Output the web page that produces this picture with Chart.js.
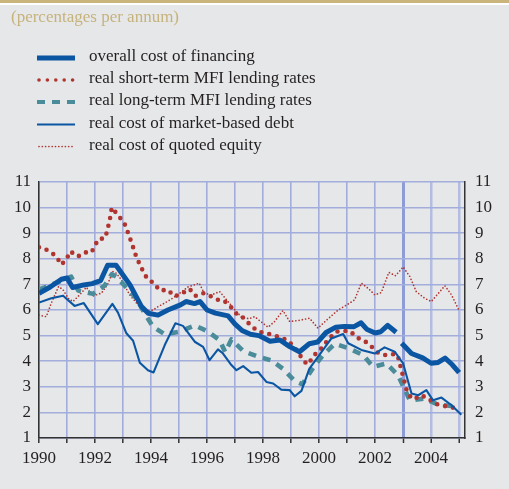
<!DOCTYPE html>
<html>
<head>
<meta charset="utf-8">
<script src="https://cdn.jsdelivr.net/npm/chart.js@4.4.1/dist/chart.umd.min.js"></script>
<style>
  html, body { margin: 0; padding: 0; background: #e6e7e9; }
  canvas { display: block; }
</style>
</head>
<body>
<canvas id="chart" width="509" height="489"></canvas>
<script>
// values (percentages per annum)
const overallYears = [1990.0, 1990.4, 1990.8, 1991.0, 1991.2, 1991.6, 1991.9, 1992.2, 1992.45, 1992.75, 1993.25, 1993.65, 1993.9, 1994.25, 1994.6, 1995.05, 1995.25, 1995.55, 1995.75, 1996.0, 1996.3, 1996.75, 1997.0, 1997.25, 1997.55, 1997.85, 1998.25, 1998.6, 1998.95, 1999.3, 1999.65, 1999.95, 2000.25, 2000.6, 2000.9, 2001.25, 2001.5, 2001.7, 2002.0, 2002.2, 2002.45, 2002.75, 2002.85, 2002.95, 2003.3, 2003.7, 2004.0, 2004.25, 2004.5, 2004.75, 2005.0];
const overallRates = [6.65, 6.9, 7.2, 7.25, 6.88, 6.98, 7.03, 7.15, 7.75, 7.75, 6.98, 6.15, 5.87, 5.8, 6.0, 6.2, 6.33, 6.25, 6.33, 6.0, 5.88, 5.77, 5.45, 5.2, 5.05, 5.0, 4.78, 4.83, 4.57, 4.37, 4.68, 4.75, 5.12, 5.33, 5.36, 5.35, 5.5, 5.25, 5.1, 5.15, 5.4, 5.13, null, 4.7, 4.3, 4.13, 3.92, 3.95, 4.12, 3.87, 3.55];

const shortYears = [1990.0, 1990.14, 1990.38, 1990.62, 1990.8, 1990.98, 1991.12, 1991.39, 1991.63, 1991.87, 1992.02, 1992.1, 1992.37, 1992.44, 1992.52, 1992.6, 1992.8, 1993.04, 1993.1, 1993.21, 1993.33, 1993.47, 1993.6, 1993.77, 1993.87, 1994.1, 1994.31, 1994.6, 1994.84, 1995.08, 1995.38, 1995.58, 1995.86, 1996.15, 1996.39, 1996.6, 1996.84, 1997.08, 1997.25, 1997.4, 1997.6, 1997.86, 1998.12, 1998.36, 1998.62, 1998.86, 1999.1, 1999.31, 1999.57, 1999.78, 1999.88, 2000.08, 2000.32, 2000.6, 2000.83, 2001.1, 2001.36, 2001.63, 2001.87, 2002.13, 2002.37, 2002.6, 2002.8, 2003.12, 2003.27, 2003.39, 2003.63, 2003.89, 2004.13, 2004.37, 2004.63, 2004.9];
const shortRates = [8.45, 8.42, 8.29, 8.09, 7.77, 7.99, 8.29, 8.09, 8.25, 8.25, 8.55, 8.75, 8.82, 9.14, 9.47, 10.0, 9.73, 9.4, 9.25, 8.92, 8.55, 8.09, 7.77, 7.4, 7.22, 7.05, 6.76, 6.79, 6.53, 6.63, 6.82, 6.55, 6.66, 6.53, 6.4, 6.37, 6.13, 5.81, 5.74, 5.58, 5.35, 5.15, 5.09, 5.02, 4.92, 4.83, 4.57, 4.24, 3.87, 4.13, 4.3, 4.5, 4.83, 5.15, 5.18, 5.18, 4.92, 4.79, 4.57, 4.3, 4.24, 4.28, 4.25, 2.9, 2.6, 2.51, 2.67, 2.56, 2.34, 2.28, 2.21, 2.17];

const longYears = [1990.0, 1990.2, 1991.15, 1991.4, 1991.93, 1992.34, 1992.6, 1992.76, 1993.1, 1993.47, 1993.77, 1994.07, 1994.49, 1995.0, 1995.56, 1996.0, 1996.45, 1996.65, 1996.87, 1997.29, 1997.76, 1998.3, 1998.71, 1999.13, 1999.4, 1999.78, 2000.14, 2000.56, 2001.07, 2001.57, 2001.93, 2002.4, 2002.82, 2003.24, 2003.77, 2004.25, 2004.73, 2004.95];
const longRates = [6.8, 6.88, 7.3, 6.76, 6.63, 6.95, 7.4, 7.3, 6.9, 6.46, 5.87, 5.35, 5.05, 5.15, 5.4, 5.18, 4.82, 4.35, 4.85, 4.4, 4.2, 4.03, 3.7, 3.23, 3.1, 3.73, 4.24, 4.68, 4.5, 4.24, 3.78, 3.91, 3.45, 2.47, 2.54, 2.3, 2.25, 2.15];

const debtYears = [1990.0, 1990.44, 1990.86, 1991.27, 1991.6, 1992.1, 1992.62, 1992.82, 1993.12, 1993.36, 1993.6, 1993.89, 1994.09, 1994.49, 1994.87, 1995.14, 1995.56, 1995.86, 1996.09, 1996.39, 1996.57, 1996.87, 1997.05, 1997.29, 1997.58, 1997.82, 1998.12, 1998.36, 1998.65, 1998.95, 1999.13, 1999.37, 1999.65, 1999.96, 2000.44, 2000.86, 2001.04, 2001.51, 2001.99, 2002.34, 2002.7, 2003.0, 2003.3, 2003.54, 2003.83, 2004.07, 2004.37, 2004.73, 2005.08];
const debtRates = [6.29, 6.46, 6.56, 6.16, 6.27, 5.45, 6.24, 5.9, 5.09, 4.8, 3.94, 3.65, 3.56, 4.63, 5.48, 5.38, 4.76, 4.56, 4.04, 4.46, 4.3, 3.85, 3.65, 3.81, 3.55, 3.58, 3.19, 3.13, 2.89, 2.87, 2.63, 2.84, 3.7, 4.17, 4.89, 5.06, 4.7, 4.44, 4.3, 4.54, 4.37, 3.91, 2.74, 2.67, 2.87, 2.47, 2.58, 2.28, 1.91];

const equityYears = [1990.0, 1990.26, 1990.44, 1990.7, 1990.86, 1991.04, 1991.21, 1991.45, 1991.69, 1991.93, 1992.23, 1992.44, 1992.64, 1992.76, 1992.94, 1993.24, 1993.54, 1993.75, 1994.07, 1994.25, 1994.61, 1994.96, 1995.32, 1995.72, 1995.9, 1996.15, 1996.45, 1996.75, 1997.0, 1997.23, 1997.5, 1997.7, 1997.88, 1998.18, 1998.41, 1998.71, 1998.95, 1999.31, 1999.66, 1999.96, 2000.26, 2000.68, 2001.09, 2001.27, 2001.51, 2001.75, 2001.99, 2002.22, 2002.49, 2002.73, 2003.0, 2003.24, 2003.47, 2003.77, 2004.01, 2004.49, 2004.73, 2004.99];
const equityRates = [5.8, 5.74, 6.27, 6.92, 6.79, 6.46, 6.33, 6.59, 6.89, 6.55, 6.66, 6.98, 7.5, 7.44, 7.18, 6.59, 6.2, 5.94, 6.0, 6.13, 6.35, 6.6, 6.9, 7.05, 6.66, 6.59, 6.72, 6.33, 6.0, 5.72, 5.66, 5.74, 5.58, 5.33, 5.55, 5.98, 5.55, 5.6, 5.68, 5.29, 5.6, 6.0, 6.27, 6.4, 7.05, 6.85, 6.59, 6.68, 7.47, 7.34, 7.68, 7.31, 6.72, 6.46, 6.33, 6.95, 6.59, 6.0];

const legendLabels = [
  "overall cost of financing",
  "real short-term MFI lending rates",
  "real long-term MFI lending rates",
  "real cost of market-based debt",
  "real cost of quoted equity"
];

const BLUE = "#0b56a2";
const RED = "#b0342f";
const TEAL = "#4b8c9b";
const GRID = "#a2addb";
const SERIF = "'Liberation Serif', 'Times New Roman', serif";

function pairs(xs, ys) {
  return xs.map((x, i) => ({ x: x, y: ys[i] }));
}

// legend samples share the dataset styles
const lineStyles = [
  { color: BLUE, width: 5, dash: [], cap: "butt" },
  { color: RED, width: 4.6, dash: [0, 8], cap: "round" },
  { color: TEAL, width: 4.6, dash: [8, 7], cap: "butt" },
  { color: BLUE, width: 2.1, dash: [], cap: "butt" },
  { color: RED, width: 1.7, dash: [0, 3.3], cap: "round" }
];

const pagePlugin = {
  id: "page",
  beforeDraw(chart) {
    const c = chart.ctx;
    c.save();
    c.fillStyle = "#e6e7e9";
    c.fillRect(0, 0, chart.width, chart.height);
    c.fillStyle = "#c9b57c";
    c.fillRect(0, 0, chart.width, 3);
    c.fillStyle = "#ffffff";
    c.fillRect(0, 3, chart.width, 2);
    c.restore();
  },
  afterDraw(chart) {
    const c = chart.ctx;
    c.save();
    c.font = "17px " + SERIF;
    c.textBaseline = "middle";
    c.fillStyle = "#c6b37c";
    c.fillText("(percentages per annum)", 11, 18);

    const rows = [58, 80, 102, 124.5, 146.5];
    legendLabels.forEach((label, i) => {
      const s = lineStyles[i];
      c.beginPath();
      c.strokeStyle = s.color;
      c.lineWidth = i === 1 ? 3.6 : i === 2 ? 4 : s.width;
      c.lineCap = s.cap;
      c.setLineDash(i === 1 ? [0, 8.4] : s.dash);
      const x0 = s.cap === "round" ? 39 : 37;
      c.moveTo(x0, rows[i]);
      c.lineTo(75, rows[i]);
      c.stroke();
      c.setLineDash([]);
      c.fillStyle = "#231f20";
      c.fillText(label, 89, rows[i] - 1);
    });
    c.restore();
  }
};

const ctx = document.getElementById("chart").getContext("2d");

const config = {
  type: "line",
  data: {
    datasets: [
      { label: legendLabels[0], data: pairs(overallYears, overallRates), order: 1 },
      { label: legendLabels[1], data: pairs(shortYears, shortRates), order: 3 },
      { label: legendLabels[2], data: pairs(longYears, longRates), order: 4 },
      { label: legendLabels[3], data: pairs(debtYears, debtRates), order: 2 },
      { label: legendLabels[4], data: pairs(equityYears, equityRates), order: 5 }
    ].map((ds, i) => Object.assign(ds, {
      borderColor: lineStyles[i].color,
      borderWidth: lineStyles[i].width,
      borderDash: lineStyles[i].dash,
      borderCapStyle: lineStyles[i].cap,
      borderJoinStyle: "round",
      pointRadius: 0,
      fill: false,
      tension: 0,
      spanGaps: false
    }))
  },
  options: {
    responsive: false,
    animation: false,
    layout: { padding: { top: 182, left: 0, right: 0, bottom: 0 }, autoPadding: false },
    plugins: {
      legend: { display: false },
      tooltip: { enabled: false }
    },
    scales: {
      x: {
        type: "linear",
        min: 1990,
        max: 2005.21,
        afterFit: (s) => { s.height = 51; },
        ticks: {
          stepSize: 1,
          includeBounds: false,
          autoSkip: false,
          maxRotation: 0,
          padding: 5,
          color: "#231f20",
          font: { family: SERIF, size: 17 },
          callback: (v) => (v % 2 === 0 && v < 2005 ? String(v) : "")
        },
        grid: {
          color: (c) => (c.tick && c.tick.value === 2003 ? "#8d9bd6" : c.tick && c.tick.value > 2003 ? "#b3bce1" : GRID),
          lineWidth: (c) => (c.tick && c.tick.value === 2003 ? 3 : c.tick && c.tick.value > 2003 ? 2.5 : 1.6),
          tickColor: "#333333",
          tickLength: 5,
          tickWidth: 1.5
        },
        border: { color: "#333333", width: 1.5 }
      },
      y: {
        position: "left",
        min: 1,
        max: 11,
        afterFit: (s) => { s.width = 39; },
        ticks: {
          stepSize: 1,
          padding: 8,
          color: "#231f20",
          font: { family: SERIF, size: 17 }
        },
        grid: { color: GRID, lineWidth: 1.6, drawTicks: false },
        border: { color: "#333333", width: 1.5 }
      },
      y2: {
        position: "right",
        min: 1,
        max: 11,
        afterFit: (s) => { s.width = 44; },
        ticks: {
          stepSize: 1,
          padding: 10,
          color: "#231f20",
          font: { family: SERIF, size: 17 }
        },
        grid: { display: false, drawTicks: false },
        border: { color: "#333333", width: 1.5 }
      }
    }
  },
  plugins: [pagePlugin]
};

const myChart = new Chart(ctx, config);
</script>
</body>
</html>
